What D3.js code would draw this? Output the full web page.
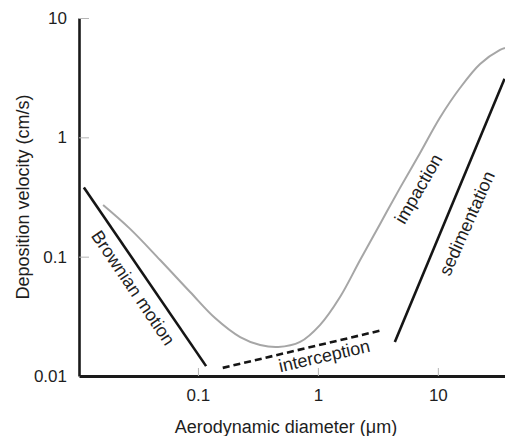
<!DOCTYPE html>
<html>
<head>
<meta charset="utf-8">
<script src="https://d3js.org/d3.v7.min.js"></script>
<style>
  body { margin: 0; background: #fff; }
  svg { display: block; font-family: "Liberation Sans", Arial, Helvetica, sans-serif; }
</style>
</head>
<body>
<script>
// log-log deposition velocity vs aerodynamic diameter
var xTicks = [0.1, 1, 10],
    yTicks = [0.01, 0.1, 1, 10];

// total deposition curve (gray), [diameter um, velocity cm/s]
var totalCurve = [
  [0.0162, 0.271], [0.0272, 0.171], [0.0484, 0.0938], [0.0861, 0.0506],
  [0.139, 0.0306], [0.225, 0.0212], [0.330, 0.0182], [0.466, 0.0175],
  [0.711, 0.0193], [1.04, 0.0267], [1.53, 0.0459], [2.25, 0.0938],
  [3.30, 0.188], [4.84, 0.377], [7.11, 0.740], [10.4, 1.46],
  [15.3, 2.59], [22.5, 4.12], [33.0, 5.41], [36.3, 5.61]
];

// mechanism asymptotes
var brownian = [[0.0112, 0.38], [0.117, 0.0121]],
    interception = [[0.161, 0.0117], [3.48, 0.0243]],
    sedimentation = [[4.38, 0.0193], [36.0, 3.1]];

var labels = [
  {text: "Brownian motion", x: 0.0288, y: 0.0547, angle: 56},
  {text: "interception", x: 1.13, y: 0.0147, angle: -13},
  {text: "impaction", x: 6.9, y: 0.37, angle: -60},
  {text: "sedimentation", x: 17.5, y: 0.19, angle: -66}
];

var width = 505, height = 436;

var svg = d3.select("body").append("svg")
    .attr("width", width)
    .attr("height", height);

var x = d3.scaleLog().domain([0.0102, 36.3]).range([79, 505]);
var y = d3.scaleLog().domain([0.01, 10]).range([376, 18]);

var line = d3.line()
    .x(d => x(d[0]))
    .y(d => y(d[1]));

// y axis
var yAxis = d3.axisLeft(y)
    .tickValues(yTicks)
    .tickFormat(d3.format("~g"))
    .tickSizeInner(-10)
    .tickSizeOuter(0)
    .tickPadding(12);

var gy = svg.append("g")
    .attr("transform", "translate(79,0)")
    .call(yAxis);

// x axis
var xAxis = d3.axisBottom(x)
    .tickValues(xTicks)
    .tickFormat(d3.format("~g"))
    .tickSizeInner(-8)
    .tickSizeOuter(0)
    .tickPadding(13);

var gx = svg.append("g")
    .attr("transform", "translate(0,376)")
    .call(xAxis);

[gx, gy].forEach(function(g) {
  g.select(".domain").attr("stroke", "#1a1a1a").attr("stroke-width", 2.6);
  g.selectAll(".tick line").attr("stroke", "#b5b5b5").attr("stroke-width", 1);
  g.selectAll(".tick text")
    .attr("fill", "#1e1e1e")
    .style("font-size", "17px")
    .style("font-family", "'Liberation Sans', Arial, sans-serif");
});
gx.select(".domain").attr("stroke-width", 3);

// axis titles
svg.append("text")
    .attr("x", 286)
    .attr("y", 433)
    .attr("text-anchor", "middle")
    .attr("fill", "#1e1e1e")
    .style("font-size", "18px")
    .text("Aerodynamic diameter (\u03bcm)");

svg.append("text")
    .attr("transform", "translate(29,197) rotate(-90)")
    .attr("text-anchor", "middle")
    .attr("fill", "#1e1e1e")
    .style("font-size", "18px")
    .text("Deposition velocity (cm/s)");

// curves
svg.append("path")
    .datum(totalCurve)
    .attr("fill", "none")
    .attr("stroke", "#a6a6a6")
    .attr("stroke-width", 2)
    .attr("d", line.curve(d3.curveCatmullRom));

line.curve(d3.curveLinear);

svg.append("path")
    .datum(brownian)
    .attr("fill", "none")
    .attr("stroke", "#151515")
    .attr("stroke-width", 2.6)
    .attr("d", line);

svg.append("path")
    .datum(interception)
    .attr("fill", "none")
    .attr("stroke", "#151515")
    .attr("stroke-width", 2.6)
    .attr("stroke-dasharray", "7,4")
    .attr("d", line);

svg.append("path")
    .datum(sedimentation)
    .attr("fill", "none")
    .attr("stroke", "#151515")
    .attr("stroke-width", 2.6)
    .attr("d", line);

// labels along the mechanisms
svg.selectAll(".mech")
    .data(labels)
  .enter().append("text")
    .attr("class", "mech")
    .attr("transform", d => "translate(" + x(d.x) + "," + y(d.y) + ") rotate(" + d.angle + ")")
    .attr("text-anchor", "middle")
    .attr("dominant-baseline", "central")
    .attr("fill", "#1e1e1e")
    .style("font-size", "18px")
    .text(d => d.text);
</script>
</body>
</html>
